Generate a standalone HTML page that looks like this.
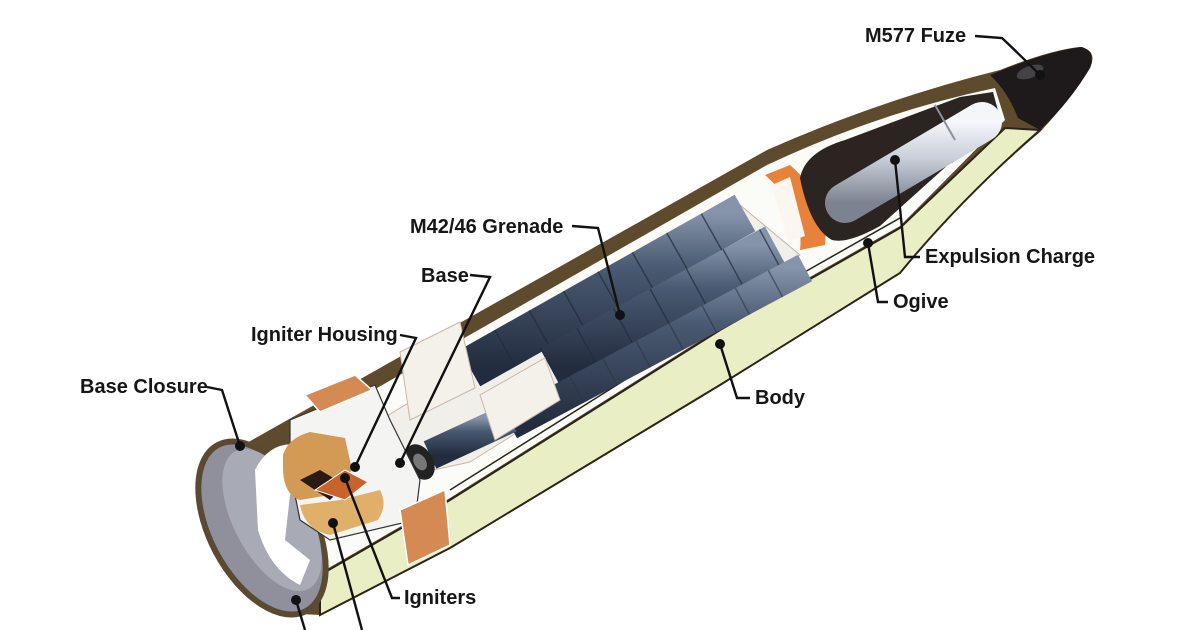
<!DOCTYPE html>
<html><head><meta charset="utf-8"><style>
html,body{margin:0;padding:0;background:#fff}
svg{display:block}
text{font-family:"Liberation Sans",sans-serif;font-size:20px;font-weight:bold;fill:#161616}
</style></head><body>
<svg width="1200" height="630" viewBox="0 0 1200 630" xmlns="http://www.w3.org/2000/svg">
<defs>
<linearGradient id="gren" x1="0" y1="0" x2="0" y2="1">
<stop offset="0" stop-color="#8594aa"/><stop offset="0.35" stop-color="#4a5a72"/><stop offset="1" stop-color="#222c3e"/>
</linearGradient>
<linearGradient id="silver" x1="0" y1="0" x2="0" y2="1">
<stop offset="0" stop-color="#f4f6fa"/><stop offset="0.45" stop-color="#c9ced8"/><stop offset="1" stop-color="#7c8290"/>
</linearGradient>
</defs>

<!-- outer silhouette -->
<path d="M212,470 Q222,445 245,444 L767,150 Q880,100 1000,70 Q1050,50 1080,47 Q1098,50 1090,68 Q1070,100 1040,132 Q960,200 900,273 L720,385 L450,548 L320,615 L300,614 Q250,600 225,560 Z" fill="#5e4b2e"/>
<!-- cream lower shell -->
<path d="M320,575 L450,500 L720,330 L900,228 L1005,128 L1040,130 Q960,200 900,273 L720,385 L450,548 L320,615 Z" fill="#e9eec5" stroke="#2a2418" stroke-width="2"/>
<!-- white interior -->
<path d="M300,432 L767,165 Q880,112 995,88 L1005,120 L900,226 L720,328 L450,498 L320,573 Z" fill="#fbfbf8"/>
<path d="M450,490 L720,320 L900,218" stroke="#2a2418" stroke-width="1.5" fill="none"/>

<!-- white blocks behind grenades -->
<path d="M380,420 L740,205 L800,255 L470,462 L410,475 Z" fill="#f1efe9" stroke="#c9b6a8" stroke-width="1"/>

<!-- grenades -->
<line x1="470" y1="368" x2="745" y2="213" stroke="url(#gren)" stroke-width="42"/>
<line x1="470" y1="368" x2="745" y2="213" stroke="#222b3c" stroke-width="42" stroke-dasharray="1.5 38" opacity="0.7"/>
<line x1="550" y1="367" x2="775" y2="245" stroke="url(#gren)" stroke-width="42"/>
<line x1="550" y1="367" x2="775" y2="245" stroke="#222b3c" stroke-width="42" stroke-dasharray="1.5 40" opacity="0.7"/>
<line x1="510" y1="425" x2="805" y2="268" stroke="url(#gren)" stroke-width="30"/>
<line x1="510" y1="425" x2="805" y2="268" stroke="#2a3548" stroke-width="30" stroke-dasharray="1.5 36" opacity="0.6"/>
<line x1="430" y1="455" x2="510" y2="418" stroke="url(#gren)" stroke-width="30"/>
<path d="M400,352 L460,322 L475,388 L410,420 Z" fill="#f3f1ea" stroke="#c9b6a8" stroke-width="1"/>
<path d="M480,395 L545,358 L560,400 L495,440 Z" fill="#f3f1ea" stroke="#c9b6a8" stroke-width="1"/>
<ellipse cx="420" cy="462" rx="13" ry="19" fill="#222" transform="rotate(-30 420 462)"/>
<ellipse cx="420" cy="462" rx="6" ry="9" fill="#777" transform="rotate(-30 420 462)"/>

<!-- orange ring -->
<path d="M765,175 L790,165 Q830,200 825,245 L800,250 Q805,210 765,175 Z" fill="#e8823a"/>
<path d="M772,185 L790,177 L805,236 L788,242 Z" fill="#fbf7f0"/>

<!-- ogive dark cavity -->
<path d="M800,178 Q805,152 845,140 L960,97 L993,92 L1000,118 L880,226 Q848,244 832,240 Q810,228 800,178 Z" fill="#2c2420"/>
<line x1="845" y1="203" x2="982" y2="122" stroke="url(#silver)" stroke-width="40" stroke-linecap="round"/>
<line x1="955" y1="140" x2="935" y2="105" stroke="#8a909c" stroke-width="2"/>

<!-- fuze -->
<path d="M990,75 Q1050,50 1082,47 Q1096,52 1090,68 Q1070,102 1040,130 L1018,118 Q1008,92 990,75 Z" fill="#1e1a1b"/>
<ellipse cx="1030" cy="72" rx="14" ry="6" fill="#6a6a70" opacity="0.5" transform="rotate(-20 1030 72)"/>

<!-- base closure -->
<ellipse cx="262" cy="528" rx="52" ry="94" fill="#8f909c" stroke="#5a4a32" stroke-width="6" transform="rotate(-28 262 528)"/>
<ellipse cx="272" cy="520" rx="38" ry="78" fill="#a8aab6" transform="rotate(-28 272 520)"/>
<path d="M255,470 Q270,440 300,445 L315,470 L290,495 L285,540 L310,560 L300,585 Q270,570 258,530 Z" fill="#fff"/>
<!-- base inner structure -->
<path d="M290,420 L375,385 L390,420 L420,480 L415,520 L330,540 L300,520 L290,470 Z" fill="#f4f4f2" stroke="#333" stroke-width="1.2"/>
<!-- copper rings -->
<path d="M305,395 L355,375 L372,390 L320,412 Z" fill="#d48a52" stroke="#fff" stroke-width="1.5"/>
<path d="M400,510 L445,490 L450,545 L408,565 Z" fill="#d48a52" stroke="#fff" stroke-width="1.5"/>
<!-- igniter housing orange -->
<path d="M283,455 Q288,438 310,432 L345,438 L352,470 L330,495 L300,500 Q284,495 283,470 Z" fill="#d39a56"/>
<path d="M300,505 L340,500 L380,490 Q388,505 378,520 L330,535 Q305,530 300,505 Z" fill="#e0b06a"/>
<path d="M300,480 L320,470 L345,485 L330,500 Z" fill="#2a1a14"/>
<path d="M315,490 L345,470 L368,482 L345,500 Z" fill="#c8632c" stroke="#fff" stroke-width="1"/>

<!-- leaders -->
<g stroke="#111" stroke-width="2.4" fill="none">
<path d="M975,36 L1002,38 Q1020,55 1040,75"/>
<path d="M572,226 L598,228 L620,315"/>
<path d="M470,275 L490,277 L400,463"/>
<path d="M400,335 L416,338 L355,467"/>
<path d="M207,387 L222,390 L240,446"/>
<path d="M345,478 L392,598 L400,598"/>
<path d="M895,160 L905,257 L920,257"/>
<path d="M868,243 L878,302 L888,302"/>
<path d="M720,344 L737,398 L750,398"/>
<path d="M296,600 L305,630"/>
<path d="M333,523 L362,630"/>
</g>
<g fill="#111">
<circle cx="1040" cy="75" r="5"/><circle cx="620" cy="315" r="5"/><circle cx="400" cy="463" r="5"/>
<circle cx="355" cy="467" r="5"/><circle cx="240" cy="446" r="5"/><circle cx="345" cy="478" r="5"/>
<circle cx="895" cy="160" r="5"/><circle cx="868" cy="243" r="5"/><circle cx="720" cy="344" r="5"/>
<circle cx="296" cy="600" r="5"/><circle cx="333" cy="523" r="5"/>
</g>

<!-- labels -->
<text x="865" y="42">M577 Fuze</text>
<text x="410" y="233">M42/46 Grenade</text>
<text x="421" y="282">Base</text>
<text x="251" y="341">Igniter Housing</text>
<text x="80" y="393">Base Closure</text>
<text x="404" y="604">Igniters</text>
<text x="925" y="263">Expulsion Charge</text>
<text x="893" y="308">Ogive</text>
<text x="755" y="404">Body</text>
</svg>
</body></html>
